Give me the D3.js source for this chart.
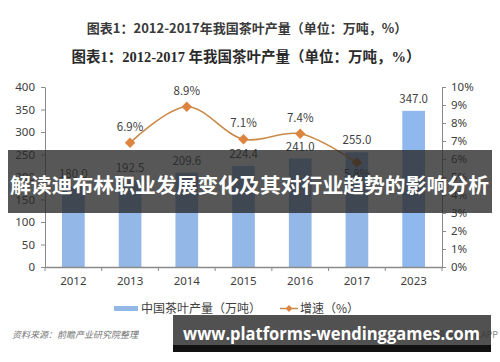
<!DOCTYPE html>
<html>
<head>
<meta charset="utf-8">
<script src="https://cdn.jsdelivr.net/npm/d3@7"></script>
<style>
  body { margin: 0; background: #fff; }
  svg { display: block; font-family: "Noto Sans CJK SC", "Noto Sans", sans-serif; }
</style>
</head>
<body>
<div id="chart"></div>
<script>
const years = ['2012', '2013', '2014', '2015', '2016', '2017', '2023'];
const production = [180.0, 192.5, 209.6, 224.4, 241.0, 255.0, 347.0];
const growth = [null, 6.9, 8.9, 7.1, 7.4, 5.8, null];
const leftTicks = [0, 50, 100, 150, 200, 250, 300, 350, 400];
const rightTicks = [0, 1, 2, 3, 4, 5, 6, 7, 8, 9, 10];

const width = 500;
const height = 362;
const plot = { left: 45, right: 442, top: 87, bottom: 267 };

const svg = d3
  .select('#chart')
  .append('svg')
  .attr('width', width)
  .attr('height', height);

// titles
svg.append('text')
  .attr('x', 247).attr('y', 33)
  .attr('text-anchor', 'middle')
  .attr('font-size', 13).attr('font-weight', 'bold').attr('fill', '#3a3a3a')
  .text('图表1：2012-2017年我国茶叶产量（单位：万吨，%）');

svg.append('text')
  .attr('x', 246).attr('y', 62)
  .attr('text-anchor', 'middle')
  .attr('font-size', 14.5).attr('font-weight', 'bold').attr('fill', '#2a2a2a')
  .attr('font-family', '"Liberation Serif", "Noto Sans CJK SC", serif')
  .text('图表1：2012-2017 年我国茶叶产量（单位：万吨，%）');

const x = d3
  .scaleBand()
  .domain(years)
  .range([plot.left, plot.right])
  .paddingInner(0.6)
  .paddingOuter(0.3);

const y = d3.scaleLinear().domain([0, 400]).range([plot.bottom, plot.top]);
const y2 = d3.scaleLinear().domain([0, 10]).range([plot.bottom, plot.top]);

// bars
svg.selectAll('rect.bar')
  .data(production)
  .join('rect')
  .attr('class', 'bar')
  .attr('x', (d, i) => x(years[i]))
  .attr('y', (d) => y(d))
  .attr('width', x.bandwidth())
  .attr('height', (d) => y(0) - y(d))
  .attr('fill', (d, i) => (i === years.length - 1 ? '#8fb8ee' : '#93b7e6'));

svg.selectAll('text.barlabel')
  .data(production)
  .join('text')
  .attr('class', 'barlabel')
  .attr('x', (d, i) => x(years[i]) + x.bandwidth() / 2)
  .attr('y', (d) => y(d) - 8)
  .attr('text-anchor', 'middle')
  .attr('font-size', 11.5).attr('fill', '#404040')
  .text((d) => d.toFixed(1));

// axes
const axisColor = '#8a8a8a';
const styleAxis = (g) => {
  g.selectAll('path, line').attr('stroke', axisColor);
  g.selectAll('text').attr('fill', '#404040').attr('font-size', 11.5)
    .attr('font-family', '"Noto Sans", sans-serif');
};

svg.append('g')
  .attr('transform', `translate(${plot.left},0)`)
  .call(d3.axisLeft(y).tickValues(leftTicks).tickSize(4).tickSizeOuter(0).tickPadding(6))
  .call(styleAxis);

svg.append('g')
  .attr('transform', `translate(${plot.right},0)`)
  .call(d3.axisRight(y2).tickValues(rightTicks).tickSize(4).tickSizeOuter(0).tickPadding(5)
    .tickFormat((d) => d + '%'))
  .call(styleAxis);

const xAxis = svg.append('g')
  .attr('transform', `translate(0,${plot.bottom})`)
  .call(d3.axisBottom(x).tickSize(0).tickPadding(10))
  .call(styleAxis);
xAxis.select('.domain').attr('stroke-width', 1.5);

// tick marks between categories
const step = x.step();
svg.selectAll('line.sep')
  .data(d3.range(years.length + 1))
  .join('line')
  .attr('class', 'sep')
  .attr('x1', (i) => plot.left + i * step)
  .attr('x2', (i) => plot.left + i * step)
  .attr('y1', plot.bottom)
  .attr('y2', plot.bottom + 4)
  .attr('stroke', axisColor);

// growth line
const pts = growth
  .map((g, i) => ({ year: years[i], g }))
  .filter((d) => d.g !== null);

const line = d3.line()
  .x((d) => x(d.year) + x.bandwidth() / 2)
  .y((d) => y2(d.g))
  .curve(d3.curveCatmullRom.alpha(0.5));

svg.append('path')
  .datum(pts)
  .attr('d', line)
  .attr('fill', 'none')
  .attr('stroke', '#c98a48')
  .attr('stroke-width', 1.6);

svg.selectAll('path.marker')
  .data(pts)
  .join('path')
  .attr('class', 'marker')
  .attr('d', d3.symbol(d3.symbolDiamond2, 70))
  .attr('transform', (d) => `translate(${x(d.year) + x.bandwidth() / 2},${y2(d.g)})`)
  .attr('fill', (d, i) => (i === pts.length - 1 ? '#b8642a' : '#dd8540'));

// last point's label sits under the marker, like the source
svg.selectAll('text.glabel')
  .data(pts)
  .join('text')
  .attr('class', 'glabel')
  .attr('x', (d) => x(d.year) + x.bandwidth() / 2)
  .attr('y', (d, i) => (i === pts.length - 1 ? y2(d.g) + 15 : y2(d.g) - 12))
  .attr('text-anchor', 'middle')
  .attr('font-size', 11.5).attr('fill', '#404040')
  .text((d) => d.g.toFixed(1) + '%');

// legend
const legend = svg.append('g').attr('font-size', 12).attr('fill', '#404040');
legend.append('rect')
  .attr('x', 114).attr('y', 306).attr('width', 24).attr('height', 5).attr('fill', '#93b7e6');
legend.append('text').attr('x', 141).attr('y', 313).text('中国茶叶产量（万吨）');
legend.append('line')
  .attr('x1', 280).attr('x2', 298).attr('y1', 308.5).attr('y2', 308.5)
  .attr('stroke', '#c98a48').attr('stroke-width', 1.5);
legend.append('path')
  .attr('d', d3.symbol(d3.symbolDiamond2, 30))
  .attr('transform', 'translate(289,308.5)')
  .attr('fill', '#dd8540');
legend.append('text').attr('x', 300).attr('y', 313).text('增速（%）');

// source line
svg.append('text')
  .attr('x', 12).attr('y', 338)
  .attr('font-size', 9).attr('font-style', 'italic').attr('fill', '#777')
  .text('资料来源：前瞻产业研究院整理');
svg.append('text')
  .attr('x', 498).attr('y', 338)
  .attr('text-anchor', 'end')
  .attr('font-size', 9).attr('fill', '#888')
  .text('@前瞻经济学人APP');

// overlay banners
svg.append('rect')
  .attr('x', 8).attr('y', 150).attr('width', 484).attr('height', 63)
  .attr('fill', 'rgba(40,40,40,0.78)');
svg.append('text')
  .attr('x', 10).attr('y', 193)
  .attr('font-size', 20.5).attr('font-weight', 'bold').attr('fill', '#fff')
  .attr('textLength', 479).attr('lengthAdjust', 'spacingAndGlyphs')
  .text('解读迪布林职业发展变化及其对行业趋势的影响分析');

svg.append('rect')
  .attr('x', 173).attr('y', 315).attr('width', 318).attr('height', 30)
  .attr('fill', 'rgba(50,50,50,0.85)');
svg.append('rect')
  .attr('x', 173).attr('y', 345).attr('width', 318).attr('height', 7)
  .attr('fill', '#111');
svg.append('text')
  .attr('x', 183).attr('y', 340)
  .attr('font-size', 18).attr('font-weight', 'bold').attr('fill', '#fff')
  .attr('font-family', '"Open Sans", "Noto Sans", sans-serif')
  .attr('textLength', 297).attr('lengthAdjust', 'spacingAndGlyphs')
  .text('www.platforms-wendinggames.com');
</script>
</body>
</html>
